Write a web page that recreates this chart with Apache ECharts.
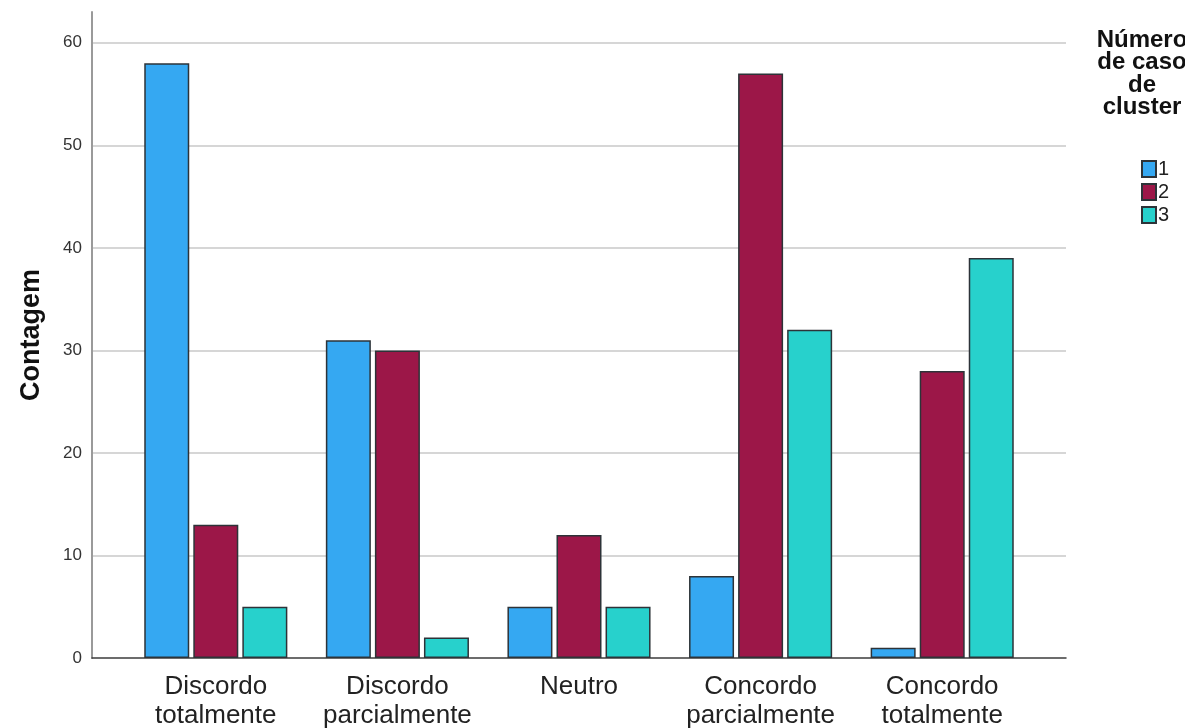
<!DOCTYPE html>
<html>
<head>
<meta charset="utf-8">
<script src="https://cdn.jsdelivr.net/npm/echarts@6/dist/echarts.min.js"></script>
<style>
  html, body { margin: 0; padding: 0; background: #ffffff; }
  #chart { width: 1185px; height: 728px; }
</style>
</head>
<body>
<div id="chart"></div>
<script>
// Response categories (x axis)
const categories = ['Discordo\ntotalmente', 'Discordo\nparcialmente', 'Neutro', 'Concordo\nparcialmente', 'Concordo\ntotalmente'];

// Counts per cluster
const seriesNames = ['1', '2', '3'];
const cluster1 = [58, 31, 5, 8, 1];
const cluster2 = [13, 30, 12, 57, 28];
const cluster3 = [5, 2, 5, 32, 39];

const colors = ['#35a8f2', '#9c1748', '#27d1cc'];
const yMax = 63;

const chart = echarts.init(document.getElementById('chart'), null, { renderer: 'canvas' });

const barStyle = (c) => ({ color: c, borderColor: '#2d3338', borderWidth: 1.5 });

chart.setOption({
  backgroundColor: '#ffffff',
  animation: false,
  title: {
    text: 'Número\nde caso\nde\ncluster',
    left: 1137,
    top: 24,
    textAlign: 'center',
    textStyle: {
      fontFamily: 'Liberation Sans, Arial, sans-serif',
      fontSize: 24,
      fontWeight: 'bold',
      lineHeight: 22.5,
      color: '#111'
    }
  },
  legend: {
    data: seriesNames,
    orient: 'vertical',
    left: 1136,
    top: 154,
    itemWidth: 14,
    itemHeight: 16,
    itemGap: 3,
    icon: 'rect',
    textStyle: {
      fontFamily: 'Liberation Sans, Arial, sans-serif',
      fontSize: 20,
      lineHeight: 16,
      color: '#222',
      padding: [0, 0, 0, -3]
    }
  },
  grid: [
    // bars and category labels
    { left: 125, right: 152, top: 12, bottom: 70, outerBoundsMode: 'none' },
    // axis frame and gridlines
    { left: 92, right: 119, top: 12, bottom: 70, outerBoundsMode: 'none' }
  ],
  xAxis: [
    {
      gridIndex: 0,
      type: 'category',
      data: categories,
      axisLine: { show: false },
      axisTick: { show: false },
      axisLabel: {
        margin: 14,
        fontFamily: 'Liberation Sans, Arial, sans-serif',
        fontSize: 26,
        lineHeight: 29,
        color: '#222',
        interval: 0
      }
    },
    {
      gridIndex: 1,
      type: 'value',
      min: 0,
      max: 1,
      axisLine: { show: true, lineStyle: { color: '#3c3c3c', width: 1.5 } },
      axisTick: { show: false },
      axisLabel: { show: false },
      splitLine: { show: false }
    }
  ],
  yAxis: [
    {
      gridIndex: 0,
      type: 'value',
      min: 0,
      max: yMax,
      show: false
    },
    {
      gridIndex: 1,
      type: 'value',
      min: 0,
      max: yMax,
      interval: 10,
      name: 'Contagem',
      nameLocation: 'middle',
      nameGap: 47,
      nameTextStyle: {
        fontFamily: 'Liberation Sans, Arial, sans-serif',
        fontSize: 27,
        fontWeight: 'bold',
        color: '#111'
      },
      axisLine: { show: true, lineStyle: { color: '#9a9a9a', width: 2 } },
      axisTick: { show: false },
      axisLabel: {
        showMaxLabel: false,
        margin: 10,
        fontFamily: 'Liberation Sans, Arial, sans-serif',
        fontSize: 17,
        color: '#333'
      },
      splitLine: {
        show: true,
        showMinLine: false,
        showMaxLine: false,
        lineStyle: { color: '#c8c8c8', width: 1.5 }
      }
    }
  ],
  series: [
    { name: seriesNames[0], type: 'bar', xAxisIndex: 0, yAxisIndex: 0, data: cluster1, barWidth: 45, barGap: '9%', itemStyle: barStyle(colors[0]), z: 3 },
    { name: seriesNames[1], type: 'bar', xAxisIndex: 0, yAxisIndex: 0, data: cluster2, barWidth: 45, barGap: '9%', itemStyle: barStyle(colors[1]), z: 3 },
    { name: seriesNames[2], type: 'bar', xAxisIndex: 0, yAxisIndex: 0, data: cluster3, barWidth: 45, barGap: '9%', itemStyle: barStyle(colors[2]), z: 3 }
  ]
});
</script>
</body>
</html>
